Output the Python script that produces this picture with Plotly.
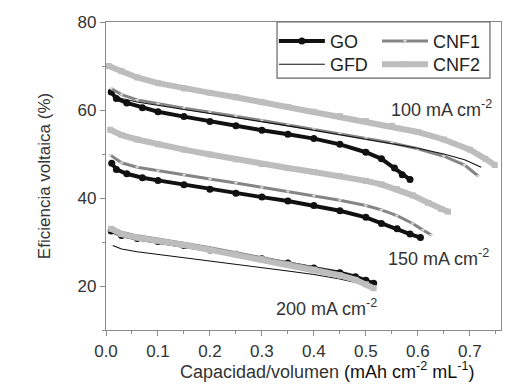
import plotly.graph_objects as go

# ---------------- data ----------------
# 100 mA cm-2
go100_x = [0.01, 0.02, 0.04, 0.07, 0.10, 0.15, 0.20, 0.25, 0.30, 0.35, 0.40, 0.45, 0.50, 0.53, 0.555, 0.57, 0.585]
go100_y = [64.1, 62.6, 61.6, 60.5, 59.6, 58.5, 57.4, 56.4, 55.4, 54.5, 53.5, 52.2, 50.4, 48.9, 46.8, 45.3, 44.2]
cnf1_100_x = [0.01, 0.03, 0.06, 0.10, 0.15, 0.20, 0.25, 0.30, 0.35, 0.40, 0.45, 0.50, 0.55, 0.60, 0.65, 0.69, 0.716]
cnf1_100_y = [64.9, 63.5, 62.3, 61.4, 60.4, 59.5, 58.6, 57.6, 56.6, 55.6, 54.6, 53.6, 52.5, 51.2, 49.5, 47.5, 45.0]
gfd100_x = [0.01, 0.03, 0.06, 0.10, 0.15, 0.20, 0.25, 0.30, 0.35, 0.40, 0.45, 0.50, 0.55, 0.60, 0.65, 0.69, 0.722]
gfd100_y = [63.5, 62.6, 61.8, 61.0, 60.1, 59.2, 58.3, 57.4, 56.4, 55.4, 54.4, 53.4, 52.4, 51.3, 50.0, 48.7, 47.0]
cnf2_100_x = [0.005, 0.03, 0.06, 0.10, 0.15, 0.20, 0.25, 0.30, 0.35, 0.40, 0.45, 0.50, 0.55, 0.60, 0.65, 0.70, 0.73, 0.748]
cnf2_100_y = [70.0, 68.8, 67.4, 66.1, 64.9, 63.9, 62.9, 61.8, 60.7, 59.6, 58.6, 57.5, 56.4, 55.0, 53.3, 51.0, 48.9, 47.5]

# 150 mA cm-2
go150_x = [0.011, 0.02, 0.04, 0.07, 0.10, 0.15, 0.20, 0.25, 0.30, 0.35, 0.40, 0.45, 0.50, 0.53, 0.56, 0.585, 0.605]
go150_y = [47.9, 46.5, 45.5, 44.6, 44.0, 43.0, 42.0, 41.1, 40.2, 39.3, 38.3, 37.1, 35.6, 34.2, 33.0, 31.8, 31.0]
cnf1_150_x = [0.008, 0.03, 0.06, 0.10, 0.15, 0.20, 0.25, 0.30, 0.35, 0.40, 0.45, 0.50, 0.53, 0.56, 0.59, 0.61, 0.626]
cnf1_150_y = [49.8, 48.0, 47.0, 46.2, 45.2, 44.3, 43.4, 42.4, 41.5, 40.5, 39.5, 38.3, 37.3, 36.0, 34.2, 32.7, 31.6]
cnf2_150_x = [0.008, 0.03, 0.06, 0.10, 0.15, 0.20, 0.25, 0.30, 0.35, 0.40, 0.45, 0.50, 0.53, 0.56, 0.59, 0.62, 0.645, 0.658]
cnf2_150_y = [55.5, 54.3, 53.3, 52.2, 51.0, 49.9, 48.8, 47.7, 46.8, 45.9, 45.0, 43.9, 43.1, 42.0, 40.6, 38.9, 37.5, 36.9]

# 200 mA cm-2
go200_x = [0.01, 0.03, 0.06, 0.10, 0.15, 0.20, 0.25, 0.30, 0.35, 0.40, 0.45, 0.48, 0.50, 0.515]
go200_y = [32.5, 31.5, 30.8, 30.1, 29.2, 28.2, 27.2, 26.2, 25.2, 24.1, 23.0, 22.1, 21.3, 20.6]
cnf1_200_x = [0.01, 0.03, 0.06, 0.10, 0.15, 0.20, 0.25, 0.30, 0.35, 0.40, 0.45, 0.48, 0.508]
cnf1_200_y = [33.3, 32.2, 31.4, 30.7, 29.7, 28.7, 27.6, 26.5, 25.3, 24.1, 22.8, 21.8, 20.1]
gfd200_x = [0.013, 0.03, 0.06, 0.10, 0.15, 0.20, 0.25, 0.30, 0.35, 0.40, 0.45, 0.48, 0.50, 0.51]
gfd200_y = [29.2, 28.4, 27.8, 27.2, 26.5, 25.8, 25.0, 24.3, 23.4, 22.6, 21.6, 20.8, 20.1, 19.7]
cnf2_200_x = [0.01, 0.03, 0.06, 0.10, 0.15, 0.20, 0.25, 0.30, 0.35, 0.40, 0.45, 0.48, 0.50, 0.515]
cnf2_200_y = [33.0, 31.8, 31.0, 30.3, 29.3, 28.2, 27.1, 26.0, 24.8, 23.7, 22.4, 21.4, 20.4, 19.5]

series_names = ["GO", "CNF1", "GFD", "CNF2"]
current_labels = ["100 mA cm<sup>-2</sup>", "150 mA cm<sup>-2</sup>", "200 mA cm<sup>-2</sup>"]
label_x = [0.645, 0.639, 0.424]
label_y = [60.4, 26.5, 15.2]
x_title = "Capacidad/volumen <span style='color:#111'>(mAh cm<sup>-2</sup> mL<sup>-1</sup>)</span>"
y_title = "Eficiencia voltaica (%)"

FONT = "Liberation Sans, Arial, sans-serif"
TXT = "#333333"
AX = "#8a8a8a"

styles = {
    "GO": dict(mode="lines+markers", line=dict(color="#111111", width=4),
               marker=dict(symbol="circle", size=7, color="#111111"), legend="legend"),
    "CNF1": dict(mode="lines+markers", line=dict(color="#858585", width=3),
                 marker=dict(symbol="triangle-down", size=4, color="#d8d8d8"), legend="legend2"),
    "GFD": dict(mode="lines", line=dict(color="#111111", width=1.1), legend="legend3"),
    "CNF2": dict(mode="lines+markers", line=dict(color="#bdbdbd", width=6),
                 marker=dict(symbol="square", size=6, color="#bdbdbd"), legend="legend4"),
}

groups = [
    ("GO", go100_x, go100_y, True), ("GO", go150_x, go150_y, False), ("GO", go200_x, go200_y, False),
    ("CNF1", cnf1_100_x, cnf1_100_y, True), ("CNF1", cnf1_150_x, cnf1_150_y, False), ("CNF1", cnf1_200_x, cnf1_200_y, False),
    ("GFD", gfd100_x, gfd100_y, True), ("GFD", gfd200_x, gfd200_y, False),
    ("CNF2", cnf2_100_x, cnf2_100_y, True), ("CNF2", cnf2_150_x, cnf2_150_y, False), ("CNF2", cnf2_200_x, cnf2_200_y, False),
]

fig = go.Figure()
for name, xs, ys, show in groups:
    st = styles[name]
    fig.add_trace(go.Scatter(x=xs, y=ys, name=name, legendgroup=name, showlegend=show, **st))

for t, lx, ly in zip(current_labels, label_x, label_y):
    fig.add_annotation(x=lx, y=ly, text=t, showarrow=False, xref="x", yref="y",
                       font=dict(family=FONT, size=18, color=TXT))

# x-axis title
fig.add_annotation(x=0.56, y=-0.133, xref="paper", yref="paper", text=x_title, showarrow=False,
                   xanchor="center", yanchor="middle", font=dict(family=FONT, size=18, color=TXT))

# legend frame
fig.add_shape(type="rect", xref="paper", yref="paper", x0=0.433, x1=0.972, y0=0.818, y1=1.0,
              line=dict(color="#666666", width=1.2), fillcolor="rgba(0,0,0,0)")

leg_common = dict(xanchor="left", yanchor="top", bgcolor="rgba(0,0,0,0)",
                  font=dict(size=18, color="#222"), itemwidth=46)
fig.update_layout(
    width=506, height=386,
    margin=dict(l=106, r=5, t=22, b=56),
    paper_bgcolor="white", plot_bgcolor="white",
    font=dict(family=FONT, size=17, color=TXT),
    legend=dict(x=0.425, y=0.997, **leg_common),
    legend2=dict(x=0.686, y=0.997, **leg_common),
    legend3=dict(x=0.425, y=0.922, **leg_common),
    legend4=dict(x=0.686, y=0.922, **leg_common),
    xaxis=dict(range=[0, 0.76], dtick=0.1, tick0=0, tickformat=".1f", showgrid=False, zeroline=False,
               showline=True, linecolor=AX, linewidth=1.3, mirror=True,
               ticks="outside", ticklen=5, tickcolor=AX,
               minor=dict(dtick=0.05, ticks="outside", ticklen=3, tickcolor=AX),
               tickfont=dict(size=17, color=TXT)),
    yaxis=dict(range=[10, 80], dtick=20, tick0=0, showgrid=False, zeroline=False,
               showline=True, linecolor=AX, linewidth=1.3, mirror=True,
               ticks="outside", ticklen=5, tickcolor=AX,
               minor=dict(dtick=10, ticks="outside", ticklen=3, tickcolor=AX),
               tickfont=dict(size=17, color=TXT),
               title=dict(text=y_title, font=dict(size=17, color=TXT), standoff=22)),
)

fig.write_html("out.html", config={"displayModeBar": False},
               post_script="document.body.style.margin='0';")
